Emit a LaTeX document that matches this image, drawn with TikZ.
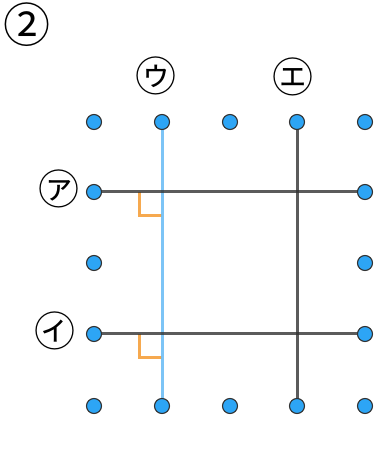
\documentclass[tikz,border=0pt]{standalone}
\usepackage{fontspec}
\newfontfamily\cjk{Noto Sans CJK JP}
\definecolor{dotblue}{RGB}{45,165,245}
\definecolor{lineblue}{RGB}{110,190,245}
\definecolor{linedark}{RGB}{50,50,50}
\definecolor{rightorange}{RGB}{245,160,60}
\begin{document}
\begin{tikzpicture}[x=1pt,y=1pt,
  dot/.style={circle,draw=linedark,line width=1.1pt,fill=dotblue,minimum size=15pt,inner sep=0pt},
  darkline/.style={draw=linedark,line width=3pt,draw opacity=0.8},
  blueline/.style={draw=lineblue,line width=3pt,draw opacity=0.9},
  anglemark/.style={draw=rightorange,line width=3pt,draw opacity=0.9},
  lab/.style={font=\cjk\fontsize{41}{41}\selectfont,inner sep=0pt}]
\useasboundingbox (0,0) rectangle (374,450);
% grid coordinates: columns a..e, rows 1..5 (top to bottom)
\foreach \c/\x in {a/94,b/162,c/230,d/297,e/365}{
  \foreach \r/\y in {1/328,2/258,3/187,4/116,5/44}{
    \coordinate (\c\r) at (\x,\y);
  }
}
\coordinate (m1) at (139,258);
\coordinate (n1) at (139,234);
\coordinate (o1) at (162,234);
\coordinate (m2) at (139,116);
\coordinate (n2) at (139,92);
\coordinate (o2) at (162,92);
% right-angle marks
\draw[anglemark] (m1) -- (n1) -- (o1);
\draw[anglemark] (m2) -- (n2) -- (o2);
% lines
\draw[blueline] (b1) -- (b5);
\draw[darkline] (d1) -- (d5);
\draw[darkline] (a2) -- (e2);
\draw[darkline] (a4) -- (e4);
% dots
\foreach \p in {a1,b1,c1,d1,e1,a2,e2,a3,e3,a4,e4,a5,b5,c5,d5,e5}{
  \node[dot] (dot\p) at (\p) {};
}
% labels
\node[lab,font=\cjk\fontsize{47}{47}\selectfont] (num) at (27,425) {②};
\node[lab] (la) at (59,261) {㋐};
\node[lab] (li) at (55,119) {㋑};
\node[lab] (lu) at (156,374) {㋒};
\node[lab] (le) at (293,373) {㋓};
\end{tikzpicture}
\end{document}
